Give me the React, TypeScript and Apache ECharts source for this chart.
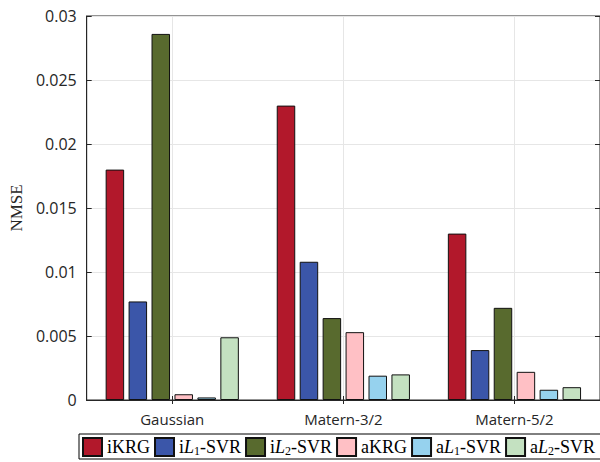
import React, { useEffect, useRef } from "react";
import * as echarts from "echarts";

const categories = ["Gaussian", "Matern-3/2", "Matern-5/2"];
const seriesNames = ["iKRG", "iL1-SVR", "iL2-SVR", "aKRG", "aL1-SVR", "aL2-SVR"];
const iKRG = [0.018, 0.023, 0.013];
const iL1SVR = [0.0077, 0.0108, 0.0039];
const iL2SVR = [0.0286, 0.0064, 0.0072];
const aKRG = [0.00045, 0.0053, 0.0022];
const aL1SVR = [0.0002, 0.0019, 0.0008];
const aL2SVR = [0.0049, 0.002, 0.001];
const yTicks = [0, 0.005, 0.01, 0.015, 0.02, 0.025, 0.03];

const colors = ["#B2182B", "#3B56A9", "#586A2E", "#FFC0C5", "#96D2EE", "#C4E1C1"];
const legendLabels: Record<string, string> = {
  "iKRG": "iKRG",
  "iL1-SVR": "i{it|L}{sub|1}-SVR",
  "iL2-SVR": "i{it|L}{sub|2}-SVR",
  "aKRG": "aKRG",
  "aL1-SVR": "a{it|L}{sub|1}-SVR",
  "aL2-SVR": "a{it|L}{sub|2}-SVR",
};

const AXIS = "#262626";
const GRID = "#e6e6e6";
const SANS = "Open Sans";
const SERIF = "Liberation Serif";

export default function App() {
  const ref = useRef<HTMLDivElement>(null);
  useEffect(() => {
    if (!ref.current) return;
    const chart = echarts.init(ref.current, undefined, { renderer: "svg" });
    const values = [iKRG, iL1SVR, iL2SVR, aKRG, aL1SVR, aL2SVR];
    const helperCats = ["", "", "", "", "", "", ""];
    const odd = (i: number) => i % 2 === 1;
    chart.setOption({
      animation: false,
      grid: {
        left: 84,
        top: 16,
        width: 517,
        height: 384,
        show: true,
        borderColor: AXIS,
        borderWidth: 1,
        backgroundColor: "#fff",
      },
      legend: {
        left: 79,
        top: 434,
        width: 540,
        orient: "horizontal",
        icon: "rect",
        itemWidth: 19,
        itemHeight: 18,
        itemGap: 4,
        padding: [3, 6, 2, 3],
        borderColor: "#000",
        borderWidth: 1,
        data: seriesNames,
        formatter: (n: string) => legendLabels[n],
        textStyle: {
          fontFamily: SERIF,
          fontSize: 18,
          color: "#000",
          rich: {
            it: { fontFamily: SERIF, fontStyle: "italic", fontSize: 18, color: "#000" },
            sub: { fontFamily: SERIF, fontSize: 12, color: "#000", padding: [8, 0, 0, 0] },
          },
        },
      },
      xAxis: [
        {
          type: "category",
          data: categories,
          position: "bottom",
          axisLine: { show: true, lineStyle: { color: AXIS } },
          axisTick: { show: true, inside: true, alignWithLabel: true, length: 4, lineStyle: { color: AXIS } },
          axisLabel: { fontFamily: SANS, fontSize: 15, color: "#262626", margin: 11 },
          splitLine: { show: false },
        },
        {
          type: "category",
          data: helperCats,
          boundaryGap: false,
          position: "top",
          axisLine: { show: true, lineStyle: { color: AXIS } },
          axisTick: { show: true, inside: true, length: 4, interval: odd, lineStyle: { color: AXIS } },
          axisLabel: { show: false },
          splitLine: { show: true, interval: odd, lineStyle: { color: GRID, width: 1 } },
        },
      ],
      yAxis: [
        {
          type: "value",
          min: 0,
          max: 0.03,
          interval: 0.005,
          position: "left",
          name: "NMSE",
          nameLocation: "middle",
          nameGap: 59,
          nameTextStyle: { fontFamily: SERIF, fontSize: 17, color: "#262626" },
          axisLine: { show: true, lineStyle: { color: AXIS } },
          axisTick: { show: true, inside: true, length: 5, lineStyle: { color: AXIS } },
          axisLabel: {
            fontFamily: SANS,
            fontSize: 16,
            color: "#262626",
            margin: 10,
            formatter: (v: number) => {
              const t = yTicks.find((x) => Math.abs(x - v) < 1e-9);
              return t === undefined ? "" : String(t);
            },
          },
          splitLine: { show: true, lineStyle: { color: GRID, width: 1 } },
        },
        {
          type: "value",
          min: 0,
          max: 0.03,
          interval: 0.005,
          position: "right",
          axisLine: { show: true, lineStyle: { color: AXIS } },
          axisTick: { show: true, inside: true, length: 5, lineStyle: { color: AXIS } },
          axisLabel: { show: false },
          splitLine: { show: false },
        },
      ],
      series: seriesNames.map((name, i) => ({
        name,
        type: "bar",
        xAxisIndex: 0,
        yAxisIndex: 0,
        data: values[i],
        barWidth: 18.5,
        barGap: "24%",
        barCategoryGap: "20%",
        itemStyle: { color: colors[i], borderColor: "#111", borderWidth: 1 },
      })),
    });
    return () => chart.dispose();
  }, []);
  return (
    <div
      ref={ref}
      style={{ position: "fixed", left: 0, top: 0, width: 600, height: 462, background: "#fff" }}
    />
  );
}
